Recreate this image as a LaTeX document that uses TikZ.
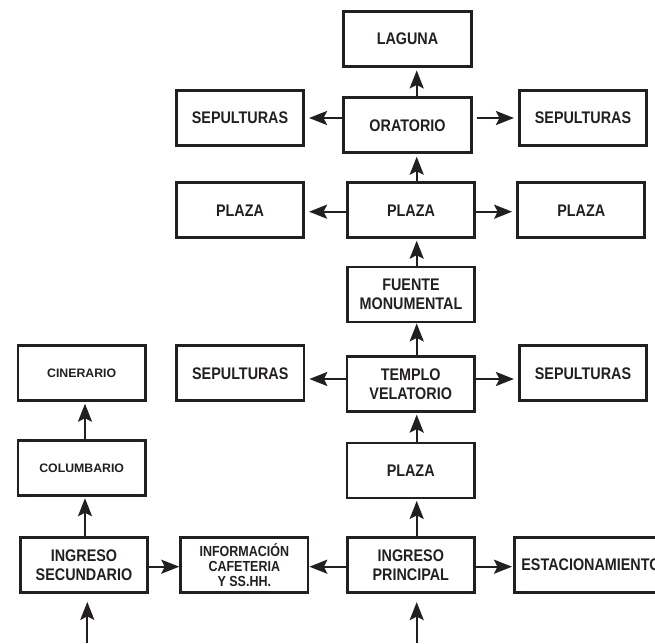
\documentclass[tikz,border=0pt]{standalone}
\usepackage{fontspec}
\setmainfont{Liberation Sans}
\newfontfamily\condf[FakeStretch=0.855]{Liberation Sans}
\usetikzlibrary{arrows.meta}
\definecolor{ink}{RGB}{35,31,32}
\begin{document}
\begin{tikzpicture}[x=1pt,y=-1pt,
  box/.style={draw=ink, text=ink, line width=2.8pt, minimum width=127.3pt, minimum height=55pt,
    inner sep=0pt, align=center, font=\condf\bfseries\fontsize{16.8}{19.5}\selectfont},
  small/.style={font=\bfseries\fontsize{12.3}{14.5}\selectfont},
  info/.style={font=\condf\bfseries\fontsize{14.6}{15}\selectfont},
  arr/.style={line width=2.3pt, draw=ink, -{Stealth[length=18pt,width=14pt,inset=3.5pt]}},
]
\useasboundingbox (0,0) rectangle (655,643);
% top column
\node[box] (laguna) at (407.5,39) {LAGUNA};
\node[box] (oratorio) at (407.5,125.3) {ORATORIO};
\node[box] (sepL1) at (240,118) {SEPULTURAS};
\node[box] (sepR1) at (583,118) {SEPULTURAS};
\node[box] (plaza1) at (411,210.3) {PLAZA};
\node[box] (plazaL) at (240,210.3) {PLAZA};
\node[box] (plazaR) at (581.2,210.3) {PLAZA};
\node[box] (fuente) at (411,294.5) {FUENTE\\MONUMENTAL};
\node[box] (templo) at (410.7,384.2) {TEMPLO\\VELATORIO};
\node[box] (sepL2) at (240.3,373.3) {SEPULTURAS};
\node[box] (sepR2) at (583,373.3) {SEPULTURAS};
\node[box] (plaza2) at (410.7,470.5) {PLAZA};
\node[box] (ingP) at (410.8,565.2) {INGRESO\\PRINCIPAL};
\node[box, minimum width=0pt, inner xsep=7pt, anchor=west] (estac) at (513,564.7) {ESTACIONAMIENTO};
% left column
\node[box, small] (cinerario) at (81.7,373.3) {CINERARIO};
\node[box, small] (columbario) at (81.7,467.8) {COLUMBARIO};
\node[box] (ingS) at (84,565) {INGRESO\\SECUNDARIO};
\node[box, info] (info) at (244.3,564.9) {INFORMACIÓN\\CAFETERIA\\Y SS.HH.};
% helper coordinates
\coordinate (mx) at (416.7,0);
\coordinate (lx) at (85,0);
\coordinate (r1) at (0,118);
\coordinate (r2) at (0,211.7);
\coordinate (r3) at (0,379);
\coordinate (r4) at (0,566.7);
\coordinate (inS) at (87.3,643);
\coordinate (inP) at (416.7,643);
% vertical arrows
\draw[arr, shorten >=2.5pt] (oratorio.north -| mx) -- (laguna.south -| mx);
\draw[arr, shorten >=2.5pt] (plaza1.north -| mx) -- (oratorio.south -| mx);
\draw[arr, shorten >=1.5pt] (fuente.north -| mx) -- (plaza1.south -| mx);
\draw[arr, shorten >=0pt] (templo.north -| mx) -- (fuente.south -| mx);
\draw[arr, shorten >=1.5pt] (plaza2.north -| mx) -- (templo.south -| mx);
\draw[arr, shorten >=1.5pt] (ingP.north -| mx) -- (plaza2.south -| mx);
\draw[arr, shorten >=8pt] (inP) -- (ingP.south -| inP);
\draw[arr, shorten >=1.5pt] (columbario.north -| lx) -- (cinerario.south -| lx);
\draw[arr, shorten >=1.5pt] (ingS.north -| lx) -- (columbario.south -| lx);
\draw[arr, shorten >=8pt] (inS) -- (ingS.south -| inS);
% horizontal arrows
\draw[arr, shorten >=4pt] (oratorio.west |- r1) -- (sepL1.east |- r1);
\draw[arr, shorten <=4pt, shorten >=4pt] (oratorio.east |- r1) -- (sepR1.west |- r1);
\draw[arr, shorten >=4pt] (plaza1.west |- r2) -- (plazaL.east |- r2);
\draw[arr, shorten >=4pt] (plaza1.east |- r2) -- (plazaR.west |- r2);
\draw[arr, shorten >=4pt] (templo.west |- r3) -- (sepL2.east |- r3);
\draw[arr, shorten >=4pt] (templo.east |- r3) -- (sepR2.west |- r3);
\draw[arr] (ingS.east |- r4) -- (info.west |- r4);
\draw[arr] (ingP.west |- r4) -- (info.east |- r4);
\draw[arr, shorten >=1pt] (ingP.east |- r4) -- (estac.west |- r4);
\end{tikzpicture}
\end{document}
